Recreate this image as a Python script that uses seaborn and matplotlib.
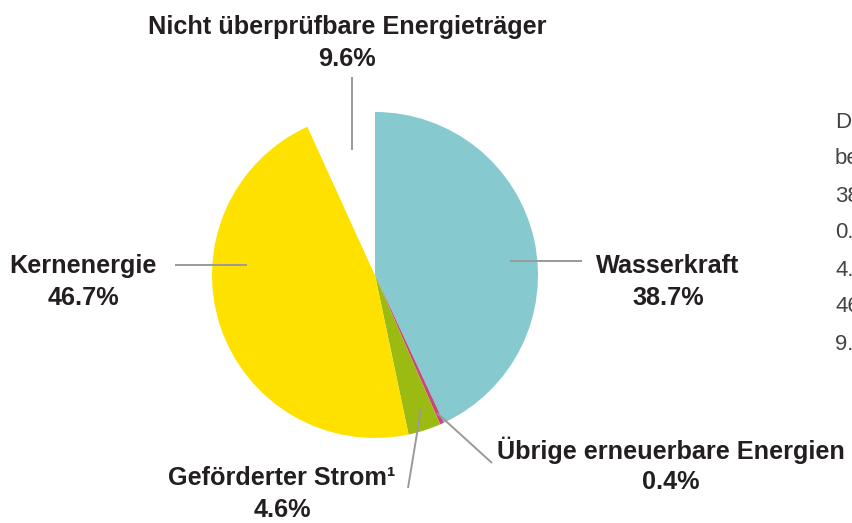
import matplotlib
matplotlib.use("Agg")
import matplotlib.pyplot as plt
import seaborn as sns

# slices, clockwise from 12 o'clock (shares as drawn in the picture)
labels = ["Wasserkraft", "Übrige erneuerbare Energien", "Geförderter Strom¹",
          "Kernenergie", "Nicht überprüfbare Energieträger"]
label_pcts = ["38.7%", "0.4%", "4.6%", "46.7%", "9.6%"]
drawn_shares = [43.05, 0.4, 3.25, 46.5, 6.8]
colors = ["#86C9CF", "#C9457C", "#9BBB12", "#FFE100", "#FFFFFF"]

# text block on the right, cut off by the image edge in the reference
side_text = ["D", "be", "38", "0.", "4.", "46", "9."]

sns.set_theme(style="white")
plt.rcParams["font.family"] = ["Liberation Sans", "DejaVu Sans"]

fig = plt.figure(figsize=(8.52, 5.23), dpi=100)
ax = fig.add_axes([0, 0, 1, 1])

ax.pie(drawn_shares, colors=colors, startangle=-90, counterclock=True,
       center=(375, 275), radius=163, frame=True,
       wedgeprops=dict(linewidth=0))
ax.set_xlim(0, 852)
ax.set_ylim(523, 0)
ax.set_aspect("equal")
ax.axis("off")

line_kw = dict(color="#9a9a9a", lw=1.4, solid_capstyle="butt")
leaders = {
    "Nicht überprüfbare Energieträger": ((352, 352), (77, 150)),
    "Wasserkraft": ((510, 582), (261, 261)),
    "Kernenergie": ((175, 247), (265, 265)),
    "Geförderter Strom¹": ((421, 408), (409, 488)),
    "Übrige erneuerbare Energien": ((437, 492), (413, 463)),
}
for xs, ys in leaders.values():
    ax.plot(xs, ys, **line_kw)

label_pos = {
    "Nicht überprüfbare Energieträger": (347, 27),
    "Wasserkraft": (668, 266),
    "Kernenergie": (83, 266),
    "Geförderter Strom¹": (282, 478),
    "Übrige erneuerbare Energien": (671, 450),
}
txt_kw = dict(ha="center", va="center", fontsize=18.2, fontweight="bold",
              color="#231f20")
for name, pct in zip(labels, label_pcts):
    x, y = label_pos[name]
    ax.text(x, y, name, **txt_kw)
    ax.text(x, y + 32, pct, **txt_kw)

for i, s in enumerate(side_text):
    ax.text(835, 122 + 37 * i, s, ha="left", va="center", fontsize=16,
            color="#444444", clip_on=True)

fig.savefig("out.png", dpi=100)
